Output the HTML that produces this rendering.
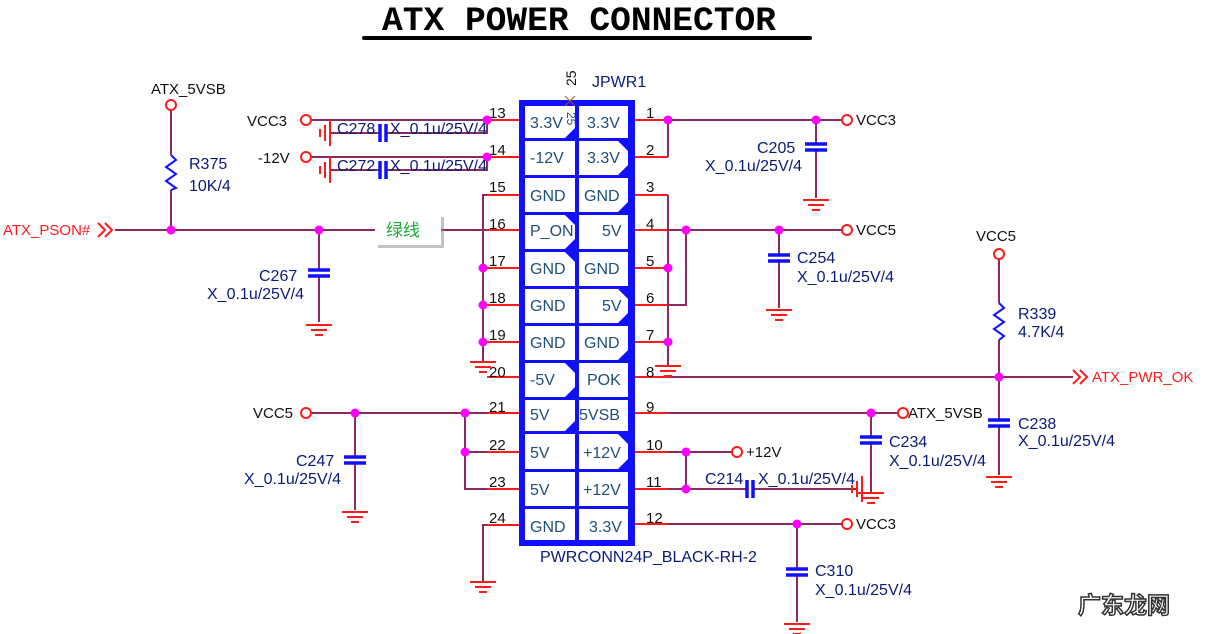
<!DOCTYPE html>
<html><head><meta charset="utf-8"><style>
html,body{margin:0;padding:0;background:#fff;}
svg{display:block;}
text{font-family:"Liberation Sans","Noto Sans CJK SC",sans-serif;}
.w{stroke:#8a2a5e;stroke-width:2;fill:none;}
.r{stroke:#ff1a1a;stroke-width:2;fill:none;}
.b{stroke:#1010ff;stroke-width:3.5;fill:none;}
.d{fill:#ff00ff;}
.pc{fill:#fff;stroke:#ff1a1a;stroke-width:2;}
.pn{font-size:15px;fill:#111;}
.nm{font-size:16px;fill:#1f4e79;}
.lb{font-size:16px;fill:#0a1a78;}
.nt{font-size:15px;fill:#111;}
</style></head><body>
<svg width="1213" height="634" viewBox="0 0 1213 634" xmlns="http://www.w3.org/2000/svg">
<defs>
<g id="gnd"><line x1="-13" y1="0" x2="13" y2="0" class="r"/><line x1="-8" y1="5" x2="8" y2="5" class="r"/><line x1="-4" y1="10" x2="4" y2="10" class="r"/></g>
<g id="gndl"><line x1="0" y1="-13" x2="0" y2="13" class="r"/><line x1="-5" y1="-8" x2="-5" y2="8" class="r"/><line x1="-10" y1="-4" x2="-10" y2="4" class="r"/></g>
<g id="capv"><line x1="-11" y1="-3" x2="11" y2="-3" class="b"/><line x1="-11" y1="3" x2="11" y2="3" class="b"/></g>
<g id="caph"><line x1="-3" y1="-9" x2="-3" y2="9" class="b"/><line x1="3" y1="-9" x2="3" y2="9" class="b"/></g>
</defs>

<!-- title -->
<text x="382" y="30" textLength="394" lengthAdjust="spacingAndGlyphs" style="font-family:'Liberation Mono',monospace;font-weight:bold;font-size:34px;fill:#000">ATX POWER CONNECTOR</text>
<line x1="364" y1="38" x2="810" y2="38" stroke="#000" stroke-width="4" stroke-linecap="round"/>

<!-- connector -->
<rect x="519" y="100" width="116" height="446" fill="#1010ff"/>
<g fill="#fff">
<rect x="525" y="106" width="50" height="32"/><rect x="579" y="106" width="49" height="32"/>
<rect x="525" y="141" width="50" height="34"/><rect x="579" y="141" width="49" height="34"/>
<rect x="525" y="178" width="50" height="34"/><rect x="579" y="178" width="49" height="34"/>
<rect x="525" y="215" width="50" height="34"/><rect x="579" y="215" width="49" height="34"/>
<rect x="525" y="252" width="50" height="34"/><rect x="579" y="252" width="49" height="34"/>
<rect x="525" y="289" width="50" height="34"/><rect x="579" y="289" width="49" height="34"/>
<rect x="525" y="326" width="50" height="34"/><rect x="579" y="326" width="49" height="34"/>
<rect x="525" y="363" width="50" height="34"/><rect x="579" y="363" width="49" height="34"/>
<rect x="525" y="400" width="50" height="31"/><rect x="579" y="400" width="49" height="31"/>
<rect x="525" y="434" width="50" height="35"/><rect x="579" y="434" width="49" height="35"/>
<rect x="525" y="472" width="50" height="34"/><rect x="579" y="472" width="49" height="34"/>
<rect x="525" y="509" width="50" height="31"/><rect x="579" y="509" width="49" height="31"/>
</g>
<g fill="#1010ff">
<polygon points="575,128 575,138 565,138"/><polygon points="618,141 628,141 628,151"/><polygon points="628,165 628,175 618,175"/>
<polygon points="628,202 628,212 618,212"/><polygon points="565,215 575,215 575,225"/><polygon points="575,239 575,249 565,249"/>
<polygon points="565,252 575,252 575,262"/><polygon points="618,289 628,289 628,299"/><polygon points="628,313 628,323 618,323"/>
<polygon points="628,350 628,360 618,360"/><polygon points="565,363 575,363 575,373"/><polygon points="575,387 575,397 565,397"/>
<polygon points="575,421 575,431 565,431"/><polygon points="618,434 628,434 628,444"/><polygon points="628,459 628,469 618,469"/>
</g>
<g class="nm">
<text x="530" y="128">3.3V</text><text x="587" y="128">3.3V</text>
<text x="530" y="163">-12V</text><text x="587" y="163">3.3V</text>
<text x="530" y="201">GND</text><text x="584" y="201">GND</text>
<text x="530" y="236">P_ON</text><text x="602" y="236">5V</text>
<text x="530" y="274">GND</text><text x="584" y="274">GND</text>
<text x="530" y="311">GND</text><text x="602" y="311">5V</text>
<text x="530" y="348">GND</text><text x="584" y="348">GND</text>
<text x="530" y="385">-5V</text><text x="587" y="385">POK</text>
<text x="530" y="420">5V</text><text x="579" y="420">5VSB</text>
<text x="530" y="458">5V</text><text x="583" y="458">+12V</text>
<text x="530" y="495">5V</text><text x="583" y="495">+12V</text>
<text x="530" y="532">GND</text><text x="589" y="532">3.3V</text>
</g>
<text x="576" y="86" class="pn" transform="rotate(-90 576 86)" style="font-size:14px">25</text>
<text x="583" y="128" class="nm" transform="rotate(90 583 112)" style="font-size:12px">25</text>
<line x1="565" y1="96" x2="575" y2="106" stroke="#a0522d"/><line x1="575" y1="96" x2="565" y2="106" stroke="#a0522d"/>
<text x="592" y="87" class="lb">JPWR1</text>
<text x="540" y="562" class="lb">PWRCONN24P_BLACK-RH-2</text>

<!-- pin stubs & numbers -->
<g class="r">
<line x1="487" y1="120" x2="519" y2="120"/><line x1="487" y1="157" x2="519" y2="157"/><line x1="487" y1="195" x2="519" y2="195"/>
<line x1="487" y1="230" x2="519" y2="230"/><line x1="487" y1="268" x2="519" y2="268"/><line x1="487" y1="305" x2="519" y2="305"/>
<line x1="487" y1="342" x2="519" y2="342"/><line x1="487" y1="377" x2="519" y2="377"/><line x1="487" y1="413" x2="519" y2="413"/>
<line x1="487" y1="452" x2="519" y2="452"/><line x1="487" y1="489" x2="519" y2="489"/><line x1="487" y1="525" x2="519" y2="525"/>
<line x1="635" y1="120" x2="668" y2="120"/><line x1="635" y1="157" x2="668" y2="157"/><line x1="635" y1="195" x2="668" y2="195"/>
<line x1="635" y1="230" x2="668" y2="230"/><line x1="635" y1="268" x2="668" y2="268"/><line x1="635" y1="305" x2="668" y2="305"/>
<line x1="635" y1="342" x2="668" y2="342"/><line x1="635" y1="377" x2="668" y2="377"/><line x1="635" y1="413" x2="668" y2="413"/>
<line x1="635" y1="452" x2="668" y2="452"/><line x1="635" y1="489" x2="668" y2="489"/><line x1="635" y1="524" x2="668" y2="524"/>
</g>
<g class="pn">
<text x="489" y="118">13</text><text x="489" y="155">14</text><text x="489" y="192">15</text><text x="489" y="229">16</text>
<text x="489" y="266">17</text><text x="489" y="303">18</text><text x="489" y="340">19</text><text x="489" y="377">20</text>
<text x="489" y="412">21</text><text x="489" y="450">22</text><text x="489" y="487">23</text><text x="489" y="523">24</text>
<text x="646" y="118">1</text><text x="646" y="155">2</text><text x="646" y="192">3</text><text x="646" y="229">4</text>
<text x="646" y="266">5</text><text x="646" y="303">6</text><text x="646" y="340">7</text><text x="646" y="377">8</text>
<text x="646" y="412">9</text><text x="646" y="450">10</text><text x="646" y="487">11</text><text x="646" y="523">12</text>
</g>

<!-- left wiring -->
<g class="w">
<line x1="311" y1="120" x2="487" y2="120"/><polyline points="487,120 487,133 386,133"/><line x1="380" y1="133" x2="330" y2="133"/>
<line x1="311" y1="157" x2="487" y2="157"/><polyline points="487,157 487,170 386,170"/><line x1="380" y1="170" x2="330" y2="170"/>
<polyline points="487,195 483,195 483,362"/><line x1="483" y1="268" x2="487" y2="268"/><line x1="483" y1="305" x2="487" y2="305"/><line x1="483" y1="342" x2="487" y2="342"/>
<line x1="115" y1="230" x2="375" y2="230"/><line x1="441" y1="230" x2="487" y2="230"/>
<line x1="311" y1="413" x2="487" y2="413"/><polyline points="465,413 465,489 487,489"/><line x1="465" y1="452" x2="487" y2="452"/>
<polyline points="487,525 483,525 483,582"/>
<line x1="171" y1="111" x2="171" y2="155"/><line x1="171" y1="190" x2="171" y2="230"/>
<line x1="319" y1="230" x2="319" y2="270"/><line x1="319" y1="276" x2="319" y2="322"/>
<line x1="355" y1="413" x2="355" y2="457"/><line x1="355" y1="463" x2="355" y2="510"/>
</g>
<use href="#gndl" x="330" y="133"/><use href="#gndl" x="330" y="170"/>
<use href="#caph" x="383" y="133"/><use href="#caph" x="383" y="170"/>
<use href="#gnd" x="483" y="362"/><use href="#gnd" x="483" y="582"/>
<use href="#capv" x="319" y="273"/><use href="#gnd" x="319" y="325"/>
<use href="#capv" x="355" y="460"/><use href="#gnd" x="355" y="512"/>
<polyline points="171,155 176,160 166,167 176,174 166,181 176,188 171,190" stroke="#1010ff" stroke-width="2" fill="none"/>
<circle cx="306" cy="120" r="5" class="pc"/><circle cx="306" cy="157" r="5" class="pc"/><circle cx="306" cy="413" r="5" class="pc"/><circle cx="171" cy="105" r="5" class="pc"/>
<polyline points="98,223 105,230 98,237" class="r"/><polyline points="105,223 112,230 105,237" class="r"/>
<g class="d"><circle cx="487" cy="120" r="4.5"/><circle cx="487" cy="157" r="4.5"/><circle cx="483" cy="268" r="4.5"/><circle cx="483" cy="305" r="4.5"/><circle cx="483" cy="342" r="4.5"/>
<circle cx="171" cy="230" r="4.5"/><circle cx="319" cy="230" r="4.5"/><circle cx="355" cy="413" r="4.5"/><circle cx="465" cy="413" r="4.5"/><circle cx="465" cy="452" r="4.5"/></g>
<text x="247" y="126" class="nt">VCC3</text><text x="258" y="163" class="nt">-12V</text><text x="253" y="418" class="nt">VCC5</text>
<text x="151" y="94" class="nt">ATX_5VSB</text>
<text x="3" y="235" style="font-size:15px;fill:#ff1a1a">ATX_PSON#</text>
<g class="lb">
<text x="337" y="134">C278</text><text x="390" y="134">X_0.1u/25V/4</text>
<text x="337" y="171">C272</text><text x="390" y="171">X_0.1u/25V/4</text>
<text x="189" y="169">R375</text><text x="189" y="191">10K/4</text>
<text x="259" y="281">C267</text><text x="207" y="299">X_0.1u/25V/4</text>
<text x="296" y="466">C247</text><text x="244" y="484">X_0.1u/25V/4</text>
</g>
<rect x="378" y="217" width="66" height="31" fill="#888" opacity="0.5"/>
<rect x="375" y="214" width="66" height="31" fill="#fff"/>
<text x="386" y="236" style="font-size:17px;fill:#1aa83a">绿线</text>

<!-- right wiring -->
<g class="w">
<line x1="668" y1="120" x2="842" y2="120"/><polyline points="668,157 668,120"/>
<line x1="816" y1="120" x2="816" y2="144"/><line x1="816" y1="150" x2="816" y2="198"/>
<polyline points="668,195 668,365"/>
<line x1="668" y1="230" x2="842" y2="230"/><polyline points="668,305 686,305 686,230"/>
<line x1="779" y1="230" x2="779" y2="255"/><line x1="779" y1="261" x2="779" y2="308"/>
<line x1="668" y1="377" x2="1073" y2="377"/>
<line x1="999" y1="259" x2="999" y2="303"/><line x1="999" y1="340" x2="999" y2="420"/><line x1="999" y1="426" x2="999" y2="475"/>
<line x1="668" y1="413" x2="898" y2="413"/><line x1="871" y1="413" x2="871" y2="437"/><line x1="871" y1="443" x2="871" y2="492"/>
<line x1="668" y1="452" x2="732" y2="452"/><line x1="686" y1="452" x2="686" y2="489"/>
<line x1="668" y1="489" x2="747" y2="489"/><line x1="753" y1="489" x2="858" y2="489"/>
<line x1="668" y1="524" x2="842" y2="524"/><line x1="797" y1="524" x2="797" y2="569"/><line x1="797" y1="575" x2="797" y2="622"/>
</g>
<use href="#capv" x="816" y="147"/><use href="#gnd" x="816" y="200"/>
<use href="#gnd" x="668" y="366"/>
<use href="#capv" x="779" y="258"/><use href="#gnd" x="779" y="310"/>
<use href="#capv" x="999" y="423"/><use href="#gnd" x="999" y="477"/>
<use href="#capv" x="871" y="440"/><use href="#gnd" x="871" y="493"/>
<use href="#caph" x="750" y="489"/><use href="#gndl" x="862" y="489"/>
<use href="#capv" x="797" y="572"/><use href="#gnd" x="797" y="624"/>
<polyline points="999,303 1004,308 994,315 1004,322 994,329 1004,336 999,340" stroke="#1010ff" stroke-width="2" fill="none"/>
<circle cx="847" cy="120" r="5" class="pc"/><circle cx="847" cy="230" r="5" class="pc"/><circle cx="999" cy="254" r="5" class="pc"/>
<circle cx="903" cy="413" r="5" class="pc"/><circle cx="737" cy="452" r="5" class="pc"/><circle cx="847" cy="524" r="5" class="pc"/>
<polyline points="1073,370 1080,377 1073,384" class="r"/><polyline points="1080,370 1087,377 1080,384" class="r"/>
<g class="d"><circle cx="668" cy="120" r="4.5"/><circle cx="816" cy="120" r="4.5"/><circle cx="668" cy="268" r="4.5"/><circle cx="668" cy="342" r="4.5"/>
<circle cx="686" cy="230" r="4.5"/><circle cx="779" cy="230" r="4.5"/><circle cx="999" cy="377" r="4.5"/><circle cx="871" cy="413" r="4.5"/>
<circle cx="686" cy="452" r="4.5"/><circle cx="686" cy="489" r="4.5"/><circle cx="797" cy="524" r="4.5"/></g>
<text x="856" y="125" class="nt">VCC3</text><text x="856" y="235" class="nt">VCC5</text><text x="976" y="241" class="nt">VCC5</text>
<text x="908" y="418" class="nt">ATX_5VSB</text><text x="746" y="457" class="nt">+12V</text><text x="856" y="529" class="nt">VCC3</text>
<text x="1092" y="382" style="font-size:15px;fill:#ff1a1a">ATX_PWR_OK</text>
<g class="lb">
<text x="757" y="153">C205</text><text x="705" y="171">X_0.1u/25V/4</text>
<text x="797" y="263">C254</text><text x="797" y="282">X_0.1u/25V/4</text>
<text x="1018" y="319">R339</text><text x="1018" y="337">4.7K/4</text>
<text x="1018" y="429">C238</text><text x="1018" y="446">X_0.1u/25V/4</text>
<text x="889" y="447">C234</text><text x="889" y="466">X_0.1u/25V/4</text>
<text x="705" y="484">C214</text><text x="758" y="484">X_0.1u/25V/4</text>
<text x="815" y="576">C310</text><text x="815" y="595">X_0.1u/25V/4</text>
</g>
<text x="1078" y="613" style="font-size:23px;font-weight:bold;fill:#fff;stroke:#333;stroke-width:1.5;font-family:'Noto Sans CJK SC',sans-serif">广东龙网</text>
</svg>
</body></html>
